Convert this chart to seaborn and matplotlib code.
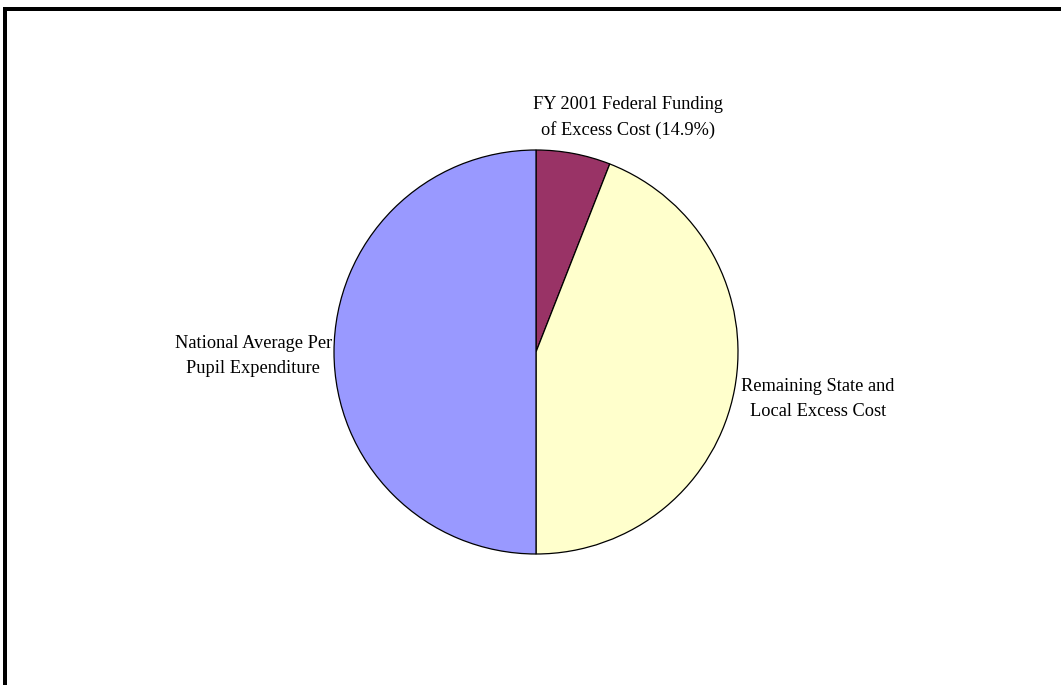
import matplotlib
matplotlib.use("Agg")
import matplotlib.pyplot as plt
import seaborn as sns
from matplotlib.lines import Line2D

# Data (share of total per-pupil cost)
categories = ["FY 2001 Federal Funding\nof Excess Cost (14.9%)",
              "Remaining State and\nLocal Excess Cost",
              "National Average Per\nPupil Expenditure"]
values = [5.95, 44.05, 50.0]
colors = ["#993366", "#FFFFCC", "#9999FF"]

sns.set_theme(style="white")
plt.rcParams['font.family'] = ['Liberation Serif', 'DejaVu Serif']

W, H = 1061, 685
fig = plt.figure(figsize=(W / 100, H / 100), dpi=100)
fig.patch.set_facecolor("white")

cx, cy, r = 536, 352, 202
ax = fig.add_axes([(cx - r) / W, (H - cy - r) / H, 2 * r / W, 2 * r / H])
palette = sns.color_palette(colors)
wedges, _ = ax.pie(values, colors=palette, startangle=90, counterclock=False,
                   radius=1.0, wedgeprops=dict(edgecolor="black", linewidth=0.9))
ax.set_xlim(-1, 1)
ax.set_ylim(-1, 1)
ax.set_aspect("equal")
ax.axis("off")

fs = 13.2
ls = 1.62
ax.text(0.455, 1.16, categories[0], ha="center", va="center", fontsize=fs,
        color="black", linespacing=ls, clip_on=False)
ax.text(1.015, -0.235, categories[1], ha="left", va="center", fontsize=fs,
        color="black", linespacing=ls, clip_on=False, multialignment="center")
ax.text(-1.01, -0.02, categories[2], ha="right", va="center", fontsize=fs,
        color="black", linespacing=ls, clip_on=False, multialignment="center")

# Frame (top and left edges visible)
lw = 4 * 72 / 100
fig.add_artist(Line2D([3 / W, 1], [1 - 9 / H, 1 - 9 / H], transform=fig.transFigure,
                      color="black", linewidth=lw, solid_capstyle="butt"))
fig.add_artist(Line2D([5 / W, 5 / W], [0, 1 - 7 / H], transform=fig.transFigure,
                      color="black", linewidth=lw, solid_capstyle="butt"))

fig.savefig("out.png", dpi=100, facecolor="white")
